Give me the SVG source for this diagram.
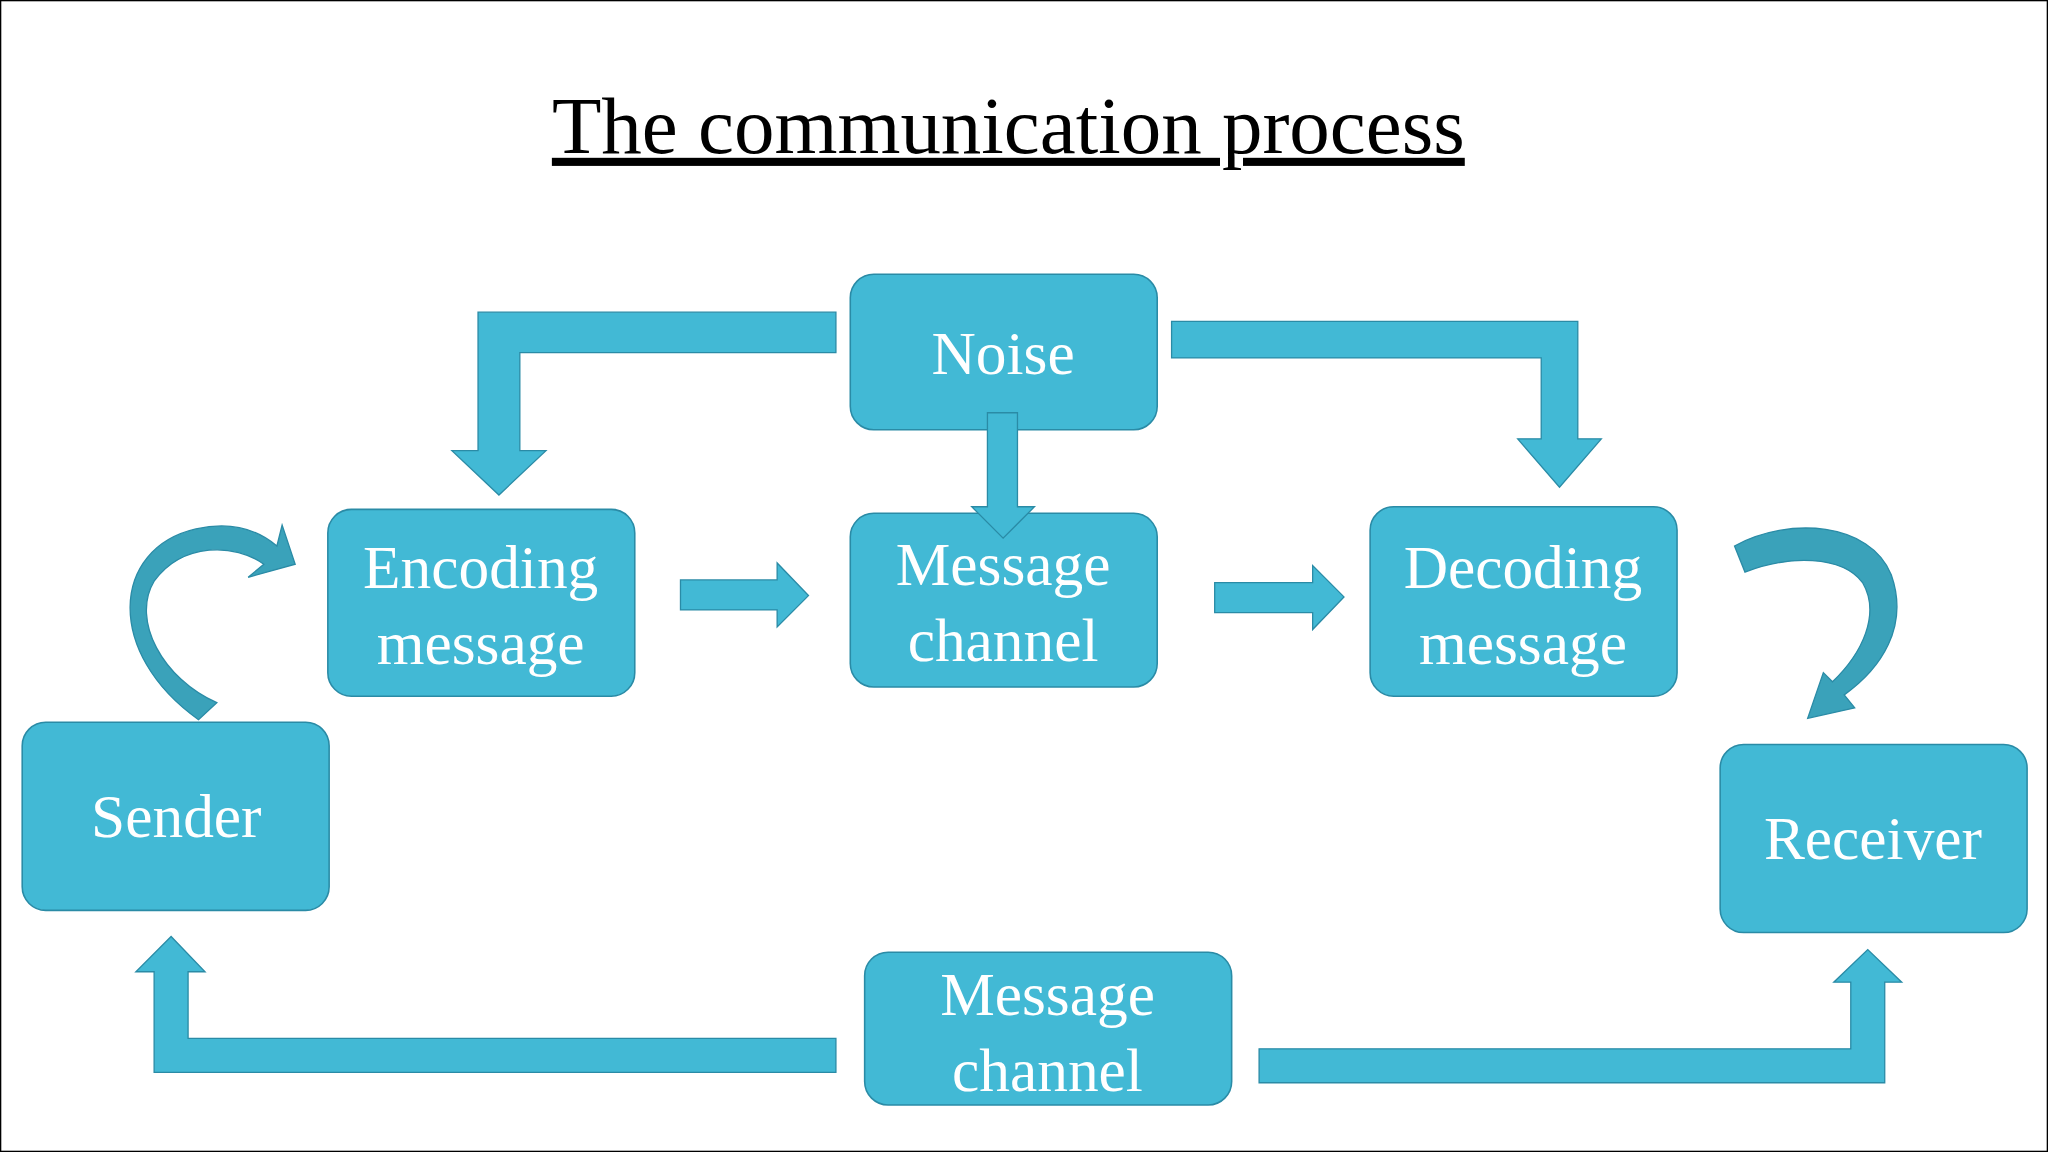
<svg xmlns="http://www.w3.org/2000/svg" width="2048" height="1152" viewBox="0 0 2048 1152">
<style>
.box{fill:#42b9d5;stroke:#2a8ba6;stroke-width:1.2}
.arr{fill:#42b9d5;stroke:#2a8ba6;stroke-width:1}
.curve{fill:#3aa2ba;stroke:#2a8ba6;stroke-width:1}
.t{font-family:"Liberation Serif",serif;font-size:47px;fill:#fff;text-anchor:middle}
</style>
<rect x="0" y="0" width="2048" height="1152" fill="#fff"/>
<g transform="scale(1.30612)">
<rect x="0.5" y="0.5" width="1567" height="881" fill="none" stroke="#000" stroke-width="1"/>
<text x="772" y="117" font-family="Liberation Serif,serif" font-size="62" text-anchor="middle" text-decoration="underline" fill="#000">The communication process</text>
<g id="connectors">
<polygon class="arr" points="640,239 366,239 366,345 346,345 382,379 418,345 398,345 398,270 640,270"/>
<polygon class="arr" points="897,246 1208,246 1208,336 1226,336 1194,373 1162,336 1180,336 1180,274 897,274"/>
<polygon class="arr" points="521,444 595,444 595,431 619,456 595,480 595,467 521,467"/>
<polygon class="arr" points="930,446 1005,446 1005,433 1029,457 1005,482 1005,469 930,469"/>
<polygon class="arr" points="640,795 144,795 144,744 157,744 131,717 104,744 118,744 118,821 640,821"/>
<polygon class="arr" points="964,803 1417,803 1417,752 1404,752 1430,727 1456,752 1443,752 1443,829 964,829"/>
<path class="curve" d="M152,551 C80,500 85,420 150,405 C180,398 200,408 212,418 L216,402 L226,432 L190,442 L202,432 C180,416 140,415 118,445 C100,475 125,520 166,538 Z"/>
<path class="curve" d="M1328,418 C1370,395 1432,400 1448,440 C1462,480 1440,512 1412,532 L1420,542 L1384,550 L1396,515 L1403,522 C1426,500 1440,470 1426,446 C1410,425 1370,425 1336,438 Z"/>
</g>
<g id="noise"><rect class="box" x="651" y="210" width="235" height="119" rx="18"/><text class="t" x="768" y="286">Noise</text></g>
<g id="encoding"><rect class="box" x="251" y="390" width="235" height="143" rx="18"/><text class="t" x="368" y="450">Encoding</text><text class="t" x="368" y="508">message</text></g>
<g id="channel1"><rect class="box" x="651" y="393" width="235" height="133" rx="18"/><text class="t" x="768" y="448">Message</text><text class="t" x="768" y="506">channel</text></g>
<polygon class="arr" points="756,316 779,316 779,388 792,388 768,412 744,388 756,388"/>
<g id="decoding"><rect class="box" x="1049" y="388" width="235" height="145" rx="18"/><text class="t" x="1166" y="450">Decoding</text><text class="t" x="1166" y="508">message</text></g>
<g id="sender"><rect class="box" x="17" y="553" width="235" height="144" rx="18"/><text class="t" x="135" y="641">Sender</text></g>
<g id="receiver"><rect class="box" x="1317" y="570" width="235" height="144" rx="18"/><text class="t" x="1434" y="658">Receiver</text></g>
<g id="channel2"><rect class="box" x="662" y="729" width="281" height="117" rx="18"/><text class="t" x="802" y="777">Message</text><text class="t" x="802" y="835">channel</text></g>
</g>
</svg>
